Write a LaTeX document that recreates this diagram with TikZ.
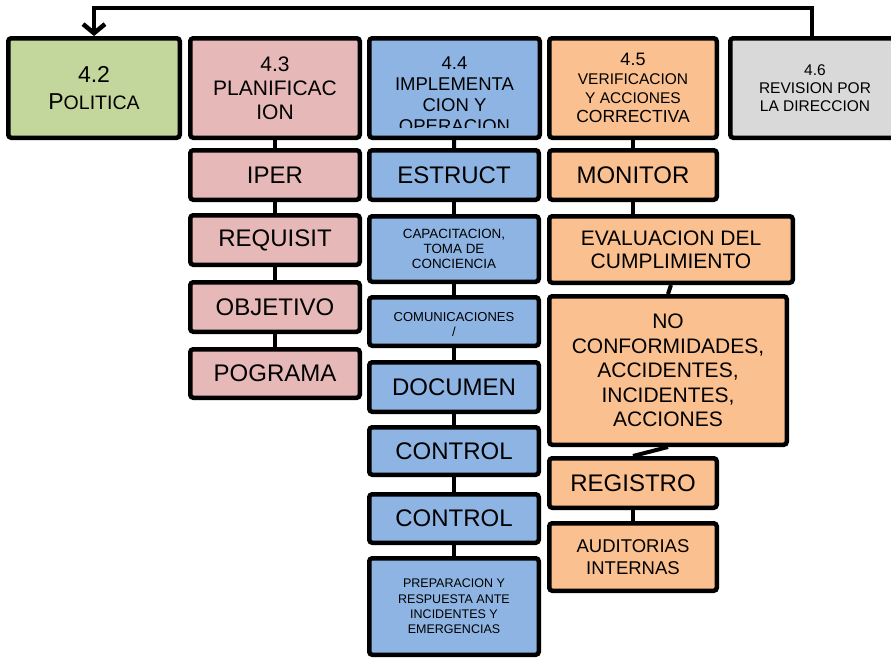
\documentclass[tikz,border=0pt]{standalone}
\usepackage{fontspec}
\setmainfont{Liberation Sans}
\usetikzlibrary{arrows.meta}
\definecolor{cgreen}{HTML}{C3D69B}
\definecolor{cpink}{HTML}{E6B9B8}
\definecolor{cblue}{HTML}{8EB4E3}
\definecolor{corange}{HTML}{FAC090}
\definecolor{cgray}{HTML}{D9D9D9}
\begin{document}
\begin{tikzpicture}[x=1pt,y=-1pt,
  box/.style={draw=black, line width=4.5pt, rounded corners=3pt, align=center,
    inner sep=0pt, text=black},
  fs/.style 2 args={font=\fontsize{#1}{#2}\selectfont},
  link/.style={draw=black, line width=4pt},
  feedback/.style={draw=black, line width=4.5pt,
    -{Straight Barb[length=9pt,width=22pt]}},
]
\fill[white] (0,0) rectangle (891,659);
\useasboundingbox (0,0) rectangle (891,659);

% ---- top row: clauses 4.2 to 4.6
\node[box, fill=cgreen, minimum width=171.5pt, minimum height=99.5pt, fs={23}{27}]
  (p42) at (94,88) {4.2\\P{\fontsize{19.5}{27}\selectfont OLITICA}};
\node[box, fill=cpink, minimum width=169.5pt, minimum height=99.5pt, fs={21}{24}]
  (p43) at (275,88) {4.3\\PLANIFICAC\\ION};
\node[box, fill=cblue, minimum width=170.5pt, minimum height=99.5pt]
  (p44) at (454.5,88) {};
\begin{scope}
  \clip (372,41) rectangle (537,127);
  \node[align=center, inner sep=0pt, fs={18.5}{21}] (p44txt) at (454.5,95)
    {4.4\\IMPLEMENTA\\CION Y\\OPERACION};
\end{scope}
\node[box, fill=corange, minimum width=167.5pt, minimum height=99.5pt, fs={15.5}{19}]
  (p45) at (633,88) {{\fontsize{18}{19}\selectfont 4.5}\\VERIFICACION\\Y ACCIONES\\
  {\fontsize{17.5}{21}\selectfont CORRECTIVA}};
\node[box, fill=cgray, minimum width=169.5pt, minimum height=99.5pt, fs={15.5}{18}]
  (p46) at (815,88) {4.6\\REVISION POR\\LA DIRECCION};

% ---- column 4.3
\node[box, fill=cpink, minimum width=169.5pt, minimum height=49.5pt, fs={24}{27}]
  (iper) at (275,175) {IPER};
\node[box, fill=cpink, minimum width=169.5pt, minimum height=49.5pt, fs={24}{27}]
  (requisit) at (275,240) {REQUISIT};
\node[box, fill=cpink, minimum width=169.5pt, minimum height=49.5pt, fs={24}{27}]
  (objetivo) at (275,307) {OBJETIVO};
\node[box, fill=cpink, minimum width=169.5pt, minimum height=48.5pt, fs={24}{27}]
  (pograma) at (275,373.5) {POGRAMA};

% ---- column 4.4
\node[box, fill=cblue, minimum width=169.5pt, minimum height=49.5pt, fs={24}{27}]
  (estruct) at (454,175) {ESTRUCT};
\node[box, fill=cblue, minimum width=169.5pt, minimum height=65.5pt, fs={13.4}{15}]
  (capac) at (454,249) {CAPACITACION,\\TOMA DE\\CONCIENCIA};
\node[box, fill=cblue, minimum width=169.5pt, minimum height=48.5pt]
  (comun) at (454,321.5) {};
\begin{scope}
  \clip (372,299) rectangle (536,335);
  \node[align=center, inner sep=0pt, fs={13}{15}] (comuntxt) at (454,324.5)
    {COMUNICACIONES\\/};
\end{scope}
\node[box, fill=cblue, minimum width=169.5pt, minimum height=49.5pt, fs={24}{27}]
  (documen) at (454,387) {DOCUMEN};
\node[box, fill=cblue, minimum width=169.5pt, minimum height=47.5pt, fs={24}{27}]
  (controla) at (454,451) {CONTROL};
\node[box, fill=cblue, minimum width=169.5pt, minimum height=48.5pt, fs={24}{27}]
  (controlb) at (454,518.5) {CONTROL};
\node[box, fill=cblue, minimum width=169.5pt, minimum height=96.5pt, fs={12.5}{15.3}]
  (prep) at (454,606.5) {PREPARACION Y\\RESPUESTA ANTE\\INCIDENTES Y\\EMERGENCIAS};

% ---- column 4.5
\node[box, fill=corange, minimum width=167.5pt, minimum height=49.5pt, fs={24}{27}]
  (monitor) at (633,175) {MONITOR};
\node[box, fill=corange, minimum width=243.5pt, minimum height=66.5pt, fs={21}{23}]
  (eval) at (671,249.5) {EVALUACION DEL\\CUMPLIMIENTO};
\node[box, fill=corange, minimum width=237.5pt, minimum height=148.5pt, fs={21}{24.5}]
  (nocon) at (668,370.5) {NO\\CONFORMIDADES,\\ACCIDENTES,\\INCIDENTES,\\ACCIONES};
\node[box, fill=corange, minimum width=167.5pt, minimum height=49.5pt, fs={24}{27}]
  (registro) at (633,483) {REGISTRO};
\node[box, fill=corange, minimum width=167.5pt, minimum height=67.5pt, fs={18.5}{21.7}]
  (audit) at (633,557) {AUDITORIAS\\INTERNAS};

% ---- connectors
\draw[link] (p43) -- (iper);
\draw[link] (iper) -- (requisit);
\draw[link] (requisit) -- (objetivo);
\draw[link] (objetivo) -- (pograma);

\draw[link] (p44) -- (estruct);
\draw[link] (estruct) -- (capac);
\draw[link] (capac) -- (comun);
\draw[link] (comun) -- (documen);
\draw[link] (documen) -- (controla);
\draw[link] (controla) -- (controlb);
\draw[link] (controlb) -- (prep);

\draw[link] (p45) -- (monitor);
\draw[link] (monitor.south) -- (monitor.south |- eval.north);
\draw[link] (eval.south) -- (nocon.north);
\draw[link] (nocon.south) -- (registro.north);
\draw[link] (registro) -- (audit);

% ---- feedback from management review to policy
\coordinate (topright) at (812,8);
\draw[feedback] (topright |- p46.north) -- (topright) -| (p42.north);
\end{tikzpicture}
\end{document}
